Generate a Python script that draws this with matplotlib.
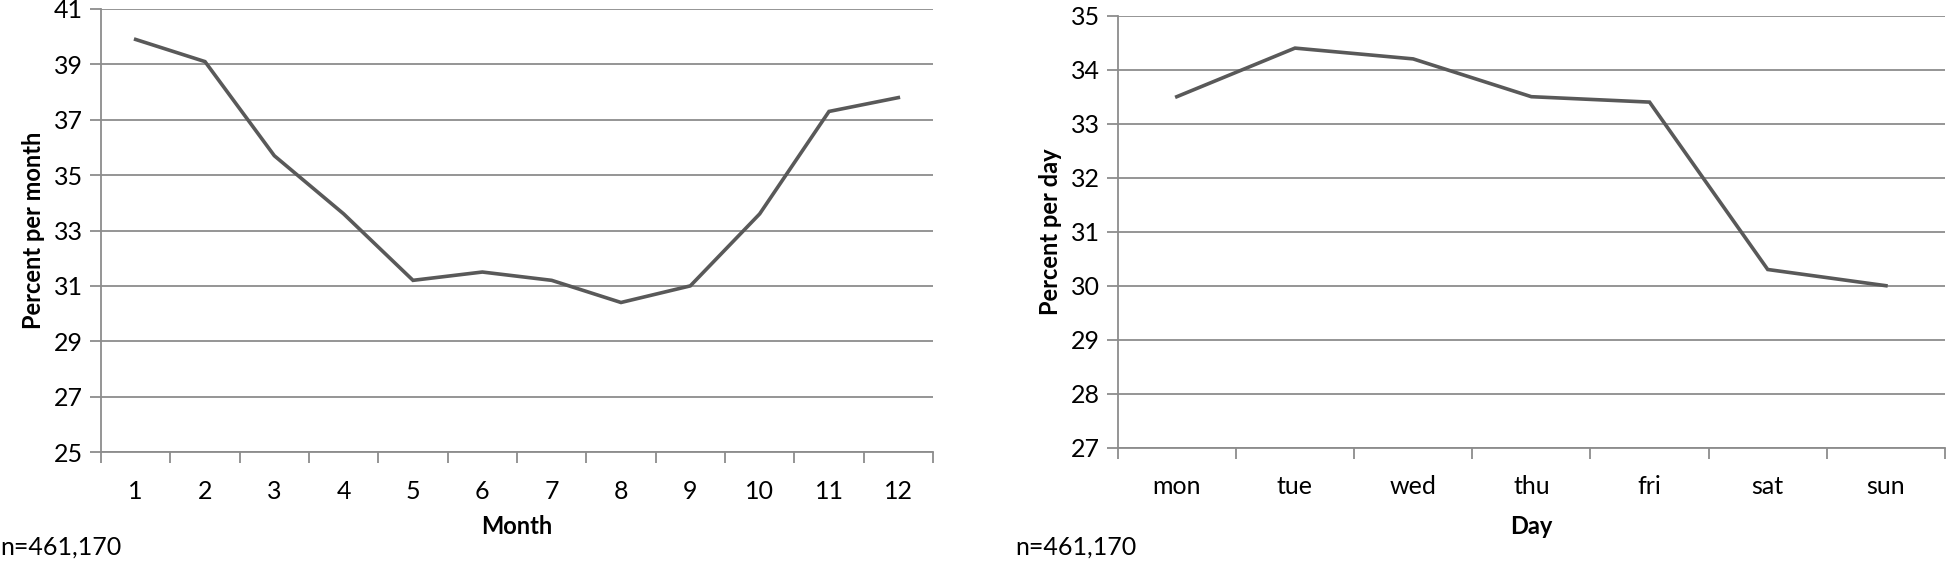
import numpy as np
import matplotlib
matplotlib.use("Agg")
import matplotlib.pyplot as plt

plt.rcParams['font.family'] = ['Lato', 'DejaVu Sans']

months = [str(m) for m in range(1, 13)]
month_pct = [39.9, 39.1, 35.7, 33.6, 31.2, 31.5, 31.2, 30.4, 31.0, 33.6, 37.3, 37.8]
days = ['mon', 'tue', 'wed', 'thu', 'fri', 'sat', 'sun']
day_pct = [33.5, 34.4, 34.2, 33.5, 33.4, 30.3, 30.0]
month_yticks = [25, 27, 29, 31, 33, 35, 37, 39, 41]
day_yticks = [27, 28, 29, 30, 31, 32, 33, 34, 35]

W, H = 1946, 562
fig = plt.figure(figsize=(W / 100, H / 100), dpi=100)

line_col = '#595959'
grid_col = '#8c8c8c'


def style(ax, cats, vals, yticks, ylabel, xlabel, xlpad):
    n = len(cats)
    x = np.arange(n)
    ax.plot(x, vals, color=line_col, lw=2.6, solid_joinstyle='miter', clip_on=False, zorder=3)
    ax.set_xlim(-0.5, n - 0.5)
    ax.set_ylim(yticks[0], yticks[-1])
    ax.set_yticks(yticks)
    ax.set_yticklabels([str(t) for t in yticks], fontsize=18)
    ax.set_xticks(np.arange(n + 1) - 0.5)
    ax.set_xticklabels([])
    ax.set_xticks(x, minor=True)
    ax.set_xticklabels(cats, minor=True, fontsize=18)
    ax.tick_params(axis='x', which='major', length=8, width=1.3, color=grid_col, direction='out')
    ax.tick_params(axis='x', which='minor', length=0, pad=20)
    ax.tick_params(axis='y', length=8, width=1.3, color=grid_col, pad=5)
    ax.grid(axis='y', color=grid_col, lw=1.3)
    ax.set_axisbelow(True)
    for s in ['top', 'right']:
        ax.spines[s].set_visible(False)
    for s in ['left', 'bottom']:
        ax.spines[s].set_color(grid_col)
        ax.spines[s].set_linewidth(1.3)
    ax.set_ylabel(ylabel, fontsize=17, fontweight='bold', labelpad=6)
    ax.set_xlabel(xlabel, fontsize=17, fontweight='bold', labelpad=xlpad)


ax1 = fig.add_axes([101 / W, 1 - 452 / H, (933 - 101) / W, (452 - 9) / H])
style(ax1, months, month_pct, month_yticks, 'Percent per month', 'Month', 9)

ax2 = fig.add_axes([1117.7 / W, 1 - 447.7 / H, (1945 - 1117.7) / W, (447.7 - 15.7) / H])
style(ax2, days, day_pct, day_yticks, 'Percent per day', 'Day', 12)

fig.text(0 / W, 1 - 547 / H, 'n=461,170', fontsize=18, va='center', ha='left')
fig.text(1015 / W, 1 - 547 / H, 'n=461,170', fontsize=18, va='center', ha='left')

fig.savefig('out.png', dpi=100, facecolor='white')
